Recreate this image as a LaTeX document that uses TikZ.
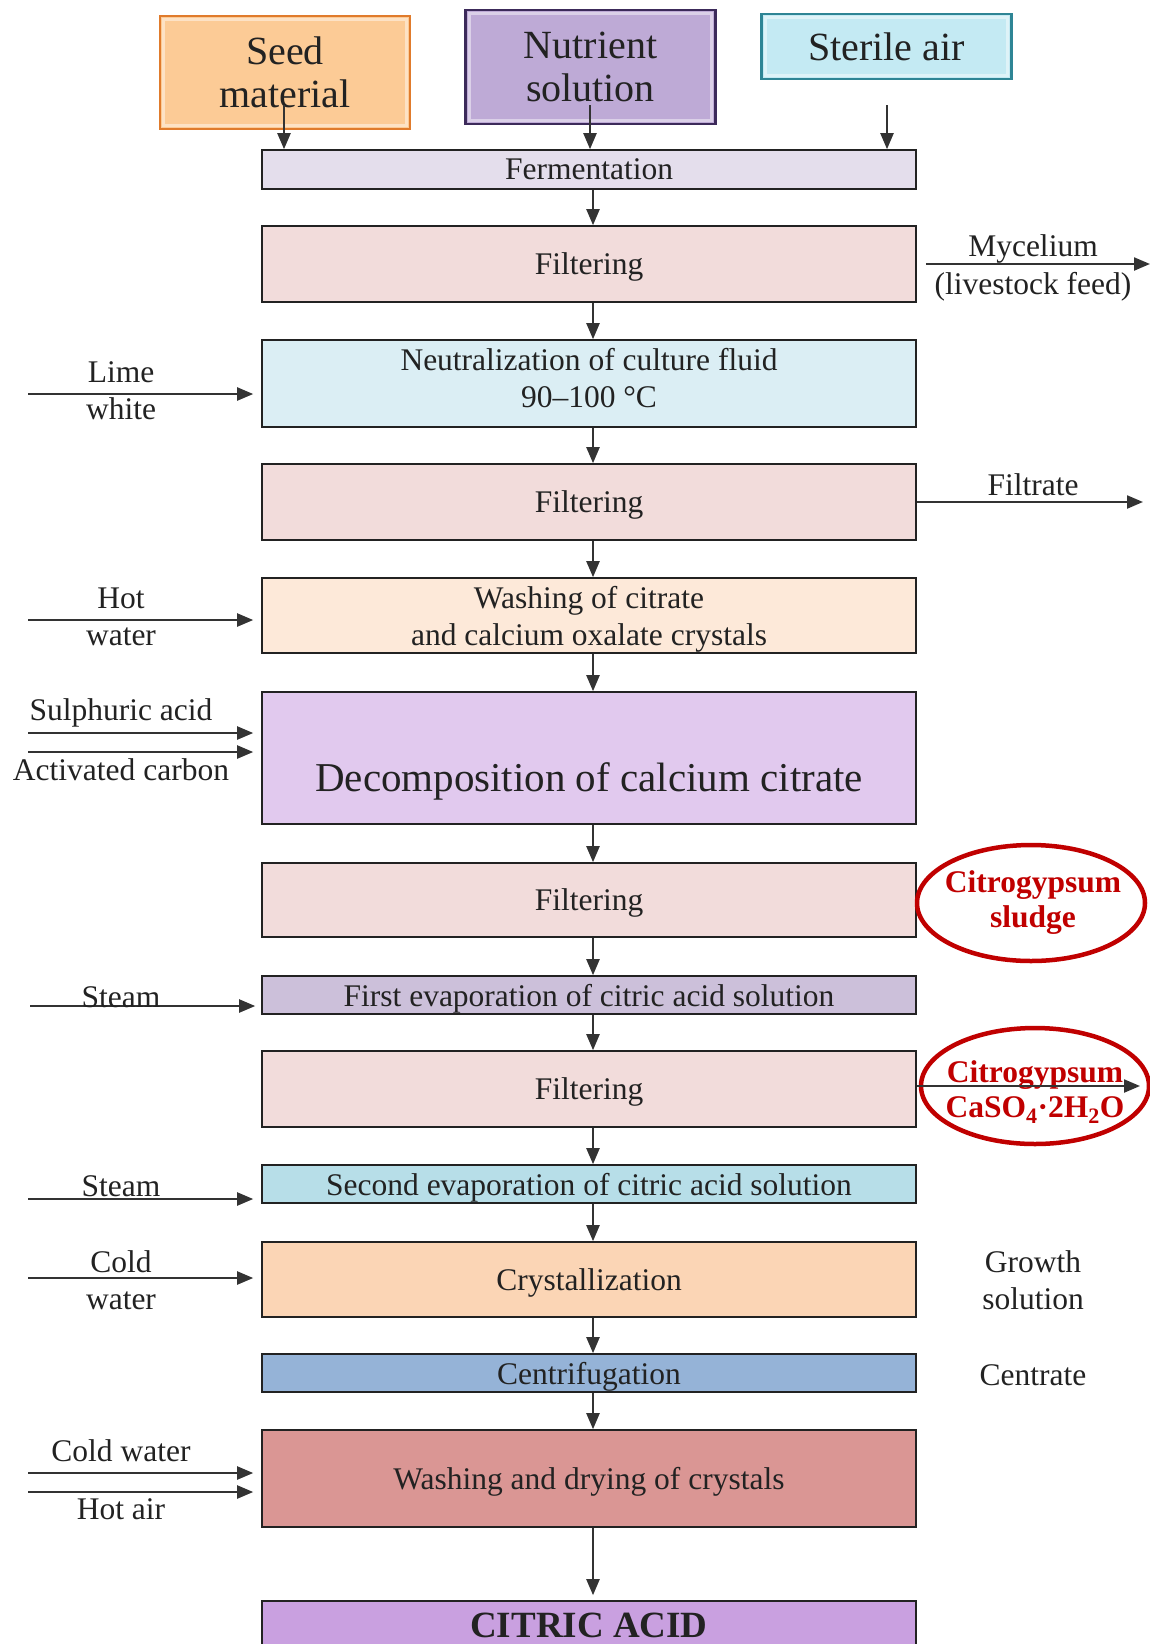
\documentclass[tikz,border=0pt]{standalone}
\usepackage{fontspec}
\setmainfont{Liberation Serif}
\usetikzlibrary{arrows.meta,shapes.geometric}

\definecolor{boxline}{HTML}{222222}
\definecolor{arrgray}{HTML}{333333}
\definecolor{citred}{HTML}{C00000}
\definecolor{seedfill}{HTML}{FCCB96}
\definecolor{seedline}{HTML}{E07B2C}
\definecolor{nutrfill}{HTML}{BEAAD6}
\definecolor{nutrline}{HTML}{3C2A5A}
\definecolor{airfill}{HTML}{C4EAF3}
\definecolor{airline}{HTML}{2E8595}
\definecolor{fermfill}{HTML}{E4DEEC}
\definecolor{filtfill}{HTML}{F2DCDB}
\definecolor{neutfill}{HTML}{DBEEF4}
\definecolor{washfill}{HTML}{FDE9D9}
\definecolor{decfill}{HTML}{E1C9EE}
\definecolor{evapafill}{HTML}{CCC0DA}
\definecolor{evapbfill}{HTML}{B7DEE8}
\definecolor{crystfill}{HTML}{FBD5B5}
\definecolor{centrfill}{HTML}{95B3D7}
\definecolor{dryfill}{HTML}{DA9694}
\definecolor{acidfill}{HTML}{C9A0E0}

\tikzstyle{stage} = [draw=boxline, line width=1.6pt, minimum width=654pt, inner sep=0pt, align=center, text=boxline, text depth=0pt, font=\fontsize{31.5}{37}\selectfont]
\tikzstyle{source} = [line width=2.4pt, minimum width=250pt, inner sep=0pt, align=center, text=boxline, font=\fontsize{40}{43}\selectfont]
\tikzstyle{bevel} = [draw=white, opacity=.45, line width=3pt]
\tikzstyle{flow} = [draw=arrgray, line width=2.2pt, -{Triangle[length=16pt,width=13pt]}]
\tikzstyle{side} = [inner sep=0pt, align=center, text=boxline, font=\fontsize{31.5}{37}\selectfont]
\tikzstyle{waste} = [ellipse, draw=citred, line width=4.5pt, minimum width=228pt, minimum height=116pt, inner sep=0pt]
\tikzstyle{wastetext} = [inner sep=0pt, align=center, text=citred, font=\bfseries\fontsize{31.5}{35}\selectfont]

\begin{document}
\begin{tikzpicture}[x=1pt, y=-1pt]
	\useasboundingbox (0,0) rectangle (1150,1644);
	
	% raw materials
	\node[source, fill=seedfill, draw=seedline, minimum height=113pt] (seed) at (285,72.5) {Seed\\material};
	\node[source, fill=nutrfill, draw=nutrline, minimum height=114pt] (nutr) at (590.5,67) {Nutrient\\solution};
	\node[source, fill=airfill, draw=airline, minimum height=65pt] (air) at (886.5,46.5) {Sterile air};
	\foreach \n in {seed, nutr, air}
		\draw[bevel] ([shift={(5pt,-5pt)}]\n.north west) rectangle ([shift={(-5pt,5pt)}]\n.south east);
	
	% process line
	\node[stage, fill=fermfill, minimum height=39pt] (ferm) at (589,169.5) {Fermentation};
	\node[stage, fill=filtfill, minimum height=76pt] (filta) at (589,264) {Filtering};
	\node[stage, fill=neutfill, minimum height=87pt] (neut) at (589,383.5) {};
	\node[font=\fontsize{31.5}{37}\selectfont, text=boxline, align=center] (neuttxt) at (589,378) {Neutralization of culture fluid\\90–100 °C};
	\node[stage, fill=filtfill, minimum height=76pt] (filtb) at (589,502) {Filtering};
	\node[stage, fill=washfill, minimum height=75pt] (wash) at (589,615.5) {Washing of citrate\\and calcium oxalate crystals};
	\node[stage, fill=decfill, minimum height=132pt] (decomp) at (589,758) {};
	\node[font=\fontsize{41}{46}\selectfont, text=boxline] (decomptxt) at (589,781) {Decomposition of calcium citrate};
	\node[stage, fill=filtfill, minimum height=74pt] (filtc) at (589,900) {Filtering};
	\node[stage, fill=evapafill, minimum height=38pt] (evapa) at (589,995) {First evaporation of citric acid solution};
	\node[stage, fill=filtfill, minimum height=76pt] (filtd) at (589,1089) {Filtering};
	\node[stage, fill=evapbfill, minimum height=38pt] (evapb) at (589,1184) {Second evaporation of citric acid solution};
	\node[stage, fill=crystfill, minimum height=75pt] (cryst) at (589,1279.5) {Crystallization};
	\node[stage, fill=centrfill, minimum height=38pt] (centr) at (589,1373) {Centrifugation};
	\node[stage, fill=dryfill, minimum height=97pt] (dry) at (589,1478.5) {Washing and drying of crystals};
	\node[stage, fill=acidfill, minimum height=48pt, font=\bfseries\fontsize{37}{42}\selectfont] (acid) at (589,1625) {CITRIC ACID};
	
	% feeds into fermentation
	\coordinate (seedout) at (284,105);
	\coordinate (nutrout) at (590,105);
	\coordinate (airout) at (887,105);
	\draw[flow] (seedout) -- (seedout |- ferm.north);
	\draw[flow] (nutrout) -- (nutrout |- ferm.north);
	\draw[flow] (airout) -- (airout |- ferm.north);
	
	\foreach \a/\b in {ferm/filta, filta/neut, neut/filtb, filtb/wash, wash/decomp, decomp/filtc, filtc/evapa, evapa/filtd, filtd/evapb, evapb/cryst, cryst/centr, centr/dry}
		\draw[flow] ([xshift=4pt]\a.south) -- ([xshift=4pt]\b.north);
	\draw[flow, shorten >=5pt] ([xshift=4pt]dry.south) -- ([xshift=4pt]acid.north);
	
	% inputs on the left
	\coordinate (lime) at (28,394);
	\coordinate (hotw) at (28,620);
	\coordinate (sulph) at (28,733);
	\coordinate (carb) at (28,752);
	\coordinate (steama) at (30,1006);
	\coordinate (steamb) at (28,1199);
	\coordinate (coldw) at (28,1278);
	\coordinate (coldwb) at (28,1473);
	\coordinate (hotair) at (28,1492);
	\draw[flow, shorten >=8pt] (lime) -- (lime -| neut.west);
	\draw[flow, shorten >=8pt] (hotw) -- (hotw -| wash.west);
	\draw[flow, shorten >=8pt] (sulph) -- (sulph -| decomp.west);
	\draw[flow, shorten >=8pt] (carb) -- (carb -| decomp.west);
	\draw[flow, shorten >=6pt] (steama) -- (steama -| evapa.west);
	\draw[flow, shorten >=8pt] (steamb) -- (steamb -| evapb.west);
	\draw[flow, shorten >=8pt] (coldw) -- (coldw -| cryst.west);
	\draw[flow, shorten >=8pt] (coldwb) -- (coldwb -| dry.west);
	\draw[flow, shorten >=8pt] (hotair) -- (hotair -| dry.west);
	
	\node[side] (limelbl) at (121,391) {Lime\\white};
	\node[side] (hotwlbl) at (121,616.5) {Hot\\water};
	\node[side] (sulphlbl) at (121,713) {Sulphuric acid};
	\node[side] (carblbl) at (121,770) {Activated carbon};
	\node[side] (steamalbl) at (121,997) {Steam};
	\node[side] (steamblbl) at (121,1186) {Steam};
	\node[side] (coldwlbl) at (121,1280) {Cold\\water};
	\node[side] (coldwblbl) at (121,1451) {Cold water};
	\node[side] (hotairlbl) at (121,1509) {Hot air};
	
	% outputs on the right
	\coordinate (mycout) at (1150,264);
	\coordinate (filtout) at (1143,502);
	\coordinate (gypout) at (1140,1086);
	\draw[flow, shorten <=9pt] (filta.east) -- (mycout);
	\draw[flow] (filtb.east) -- (filtout);
	\node[side, font=\fontsize{31.5}{38}\selectfont] (myclbl) at (1033,268) {Mycelium\\(livestock feed)};
	\node[side] (filtlbl) at (1033,485) {Filtrate};
	
	\node[waste] (sludge) at (1031,903) {};
	\node[wastetext] (sludgetxt) at (1033,903) {Citrogypsum\\sludge};
	\node[waste] (gyps) at (1035,1086) {};
	\node[wastetext] (gypstxt) at (1035,1092) {Citrogypsum\\CaSO\textsubscript{4}·2H\textsubscript{2}O};
	\draw[flow] (gypout -| filtd.east) -- (gypout);
	
	\node[side] (growlbl) at (1033,1280) {Growth\\solution};
	\node[side] (centlbl) at (1033,1375) {Centrate};
\end{tikzpicture}
\end{document}
